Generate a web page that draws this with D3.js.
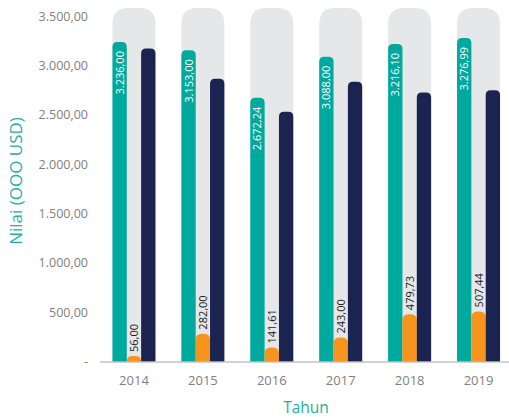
<!DOCTYPE html>
<html>
<head>
<meta charset="utf-8">
<script src="https://cdn.jsdelivr.net/npm/d3@7"></script>
<style>
  html, body { margin: 0; padding: 0; background: #fff; }
  svg { display: block; font-family: "Open Sans", "Noto Sans", sans-serif; }
</style>
</head>
<body>
<svg id="chart" width="509" height="417"></svg>
<script>
// Export values per year (thousand USD)
const years = ["2014", "2015", "2016", "2017", "2018", "2019"];
const tealValues = [3236.00, 3153.00, 2672.24, 3088.00, 3216.10, 3276.99];
const orangeValues = [56.00, 282.00, 141.61, 243.00, 479.73, 507.44];
const navyValues = [3170, 2864, 2529, 2834, 2726, 2749];
const yTicks = [0, 500, 1000, 1500, 2000, 2500, 3000, 3500];
const backgroundValue = 3580;

const colors = { teal: "#00a99d", orange: "#f7941d", navy: "#1b2351", bg: "#e6e7e9", axis: "#a6a6a6", tick: "#808080", title: "#1bb0a3" };

const svg = d3.select("#chart");
const x = d3.scaleBand().domain(years).range([99.5, 513]).paddingInner(0.376).paddingOuter(0.188);
const y = d3.scaleLinear().domain([0, 3500]).range([361.5, 16]);

const loc = d3.formatLocale({ decimal: ",", thousands: ".", grouping: [3], currency: ["", ""] });
const fmt = loc.format(",.2f");

// Path of a bar with rounded top corners
function topRounded(x0, w, yTop, yBase, r) {
  r = Math.min(r, w / 2, Math.max(0, yBase - yTop));
  return `M${x0},${yBase}V${yTop + r}Q${x0},${yTop} ${x0 + r},${yTop}H${x0 + w - r}Q${x0 + w},${yTop} ${x0 + w},${yTop + r}V${yBase}Z`;
}

const rows = years.map((yr, i) => ({ yr, teal: tealValues[i], orange: orangeValues[i], navy: navyValues[i] }));
const bw = x.bandwidth();
const sub = bw / 3;

// Grey backdrop
svg.append("g").selectAll("path").data(rows).join("path")
  .attr("fill", colors.bg)
  .attr("d", d => topRounded(x(d.yr), bw, y(backgroundValue), y(0), 16));

// Series bars
const series = [
  { key: "teal", idx: 0, r: 5 },
  { key: "orange", idx: 1, r: 6 },
  { key: "navy", idx: 2, r: 5 }
];
series.forEach(s => {
  svg.append("g").selectAll("path").data(rows).join("path")
    .attr("fill", colors[s.key])
    .attr("d", d => topRounded(x(d.yr) + sub * s.idx, sub, y(d[s.key]), y(0), s.r));
});

// Axes
const yAxis = d3.axisLeft(y).tickValues(yTicks).tickSize(0).tickPadding(11)
  .tickFormat(v => v === 0 ? "-" : fmt(v));
const gy = svg.append("g").attr("transform", "translate(99,0)").call(yAxis);
gy.select(".domain").remove();
gy.selectAll("text").attr("fill", colors.tick).style("font-size", "12.5px").style("font-family", "'Open Sans', sans-serif");

const gx = svg.append("g").attr("transform", `translate(0,${y(0)})`)
  .call(d3.axisBottom(x).tickSize(0).tickSizeOuter(0).tickPadding(14));
gx.select(".domain").attr("stroke", colors.axis).attr("stroke-width", 1.2);
gx.selectAll("text").attr("fill", colors.tick).style("font-size", "13px").style("font-family", "'Open Sans', sans-serif");

// Value labels
svg.append("g").selectAll("text").data(rows).join("text")
  .attr("transform", d => `translate(${x(d.yr) + sub * 0.5 + 4},${y(d.teal) + 9}) rotate(-90)`)
  .attr("text-anchor", "end")
  .attr("fill", "#fff")
  .style("font-size", "11px")
  .text(d => fmt(d.teal));

svg.append("g").selectAll("text").data(rows).join("text")
  .attr("transform", d => `translate(${x(d.yr) + sub * 1.5 + 4},${y(d.orange) - 4}) rotate(-90)`)
  .attr("text-anchor", "start")
  .attr("fill", "#1a1a1a")
  .style("font-size", "11px")
  .text(d => fmt(d.orange));

// Axis titles
svg.append("text")
  .attr("transform", "translate(22,181) rotate(-90)")
  .attr("text-anchor", "middle")
  .attr("fill", colors.title)
  .style("font-size", "17px")
  .text("Nilai (OOO USD)");

svg.append("text")
  .attr("x", 306).attr("y", 413)
  .attr("text-anchor", "middle")
  .attr("fill", colors.title)
  .style("font-size", "15.5px")
  .text("Tahun");
</script>
</body>
</html>
